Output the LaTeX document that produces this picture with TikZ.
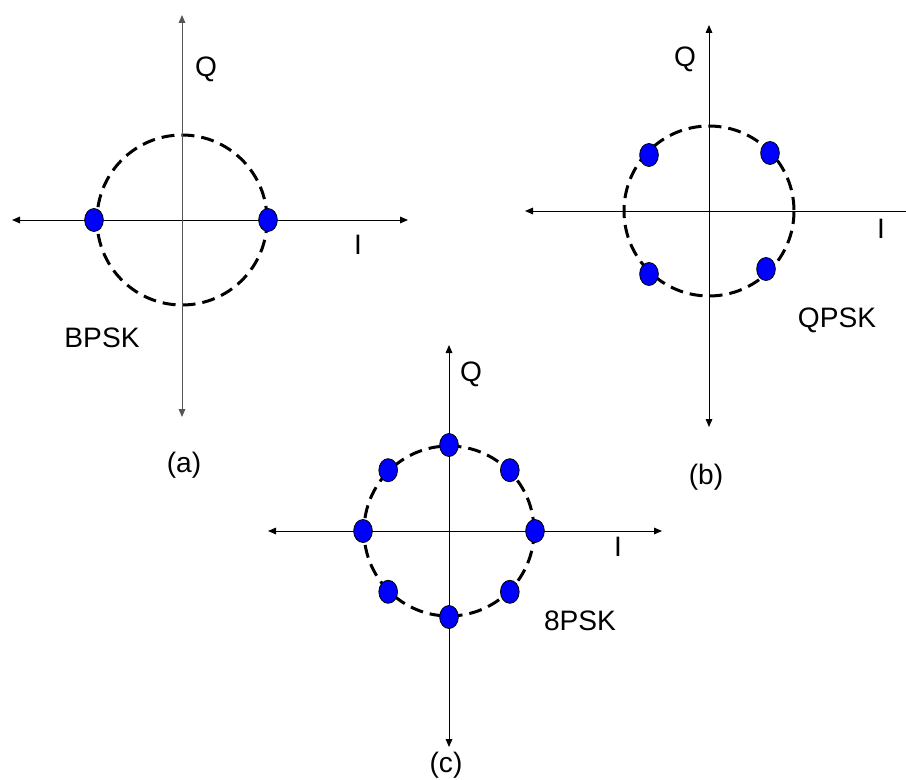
\documentclass[tikz,border=0pt]{standalone}
\usepackage{fontspec}
\setmainfont{Liberation Sans}
\usepackage{tikz}
\usetikzlibrary{arrows.meta,shapes.geometric,calc}
\definecolor{PskBlue}{HTML}{0000FF}
\definecolor{AxisGray}{HTML}{555555}
\tikzset{
  pskaxis/.style={
    {Triangle[length=2.4mm,width=2mm]}-{Triangle[length=2.4mm,width=2mm]},
    line width=0.3mm
  },
  pskring/.style={dashed, dash pattern=on 3.9mm off 2.1mm, line width=0.9mm},
  pskpoint/.style={
    ellipse,
    draw=black,
    fill=PskBlue,
    line width=0.25mm,
    minimum width=5.6mm,
    minimum height=6.9mm,
    inner sep=0pt
  },
  psklabel/.style={font=\fontsize{24}{26}\selectfont, inner sep=0pt}
}

\begin{document}
\begin{tikzpicture}[x=0.3mm, y=-0.3mm]
  \useasboundingbox (0,0) rectangle (906,780);

  % (a) BPSK
  \coordinate (aO) at (182,220);
  \coordinate (aL) at (12,220);
  \coordinate (aR) at (408,220);
  \coordinate (aT) at (182,15);
  \coordinate (aB) at (182,417);
  \draw[pskring] (aO) circle (85);
  \draw[pskaxis] (aL) -- (aR);
  \draw[pskaxis, draw=AxisGray] (aT) -- (aB);
  \node[pskpoint] (a1) at (94,220) {};
  \node[pskpoint] (a2) at (268,220) {};
  \node[psklabel] (aQ) at (206,69) {Q};
  \node[psklabel] (aI) at (358,245) {I};
  \node[psklabel] (aname) at (102,338) {BPSK};
  \node[psklabel] (acap) at (184,465) {(a)};

  % (b) QPSK
  \coordinate (bO) at (709,211);
  \coordinate (bL) at (525,211);
  \coordinate (bR) at (906,211);
  \coordinate (bT) at (709,25);
  \coordinate (bB) at (709,427);
  \draw[pskring] (bO) circle (85);
  \draw[{Triangle[length=2.4mm,width=2mm]}-, line width=0.3mm] (bL) -- (bR);
  \draw[pskaxis] (bT) -- (bB);
  \node[pskpoint] (b1) at (649,155) {};
  \node[pskpoint] (b2) at (770,153) {};
  \node[pskpoint] (b3) at (649,274) {};
  \node[pskpoint] (b4) at (766,269) {};
  \node[psklabel] (bQ) at (685,59) {Q};
  \node[psklabel] (bI) at (881,229) {I};
  \node[psklabel] (bname) at (837,320) {QPSK};
  \node[psklabel] (bcap) at (706,477) {(b)};

  % (c) 8PSK
  \coordinate (cO) at (449,531);
  \coordinate (cL) at (268,531);
  \coordinate (cR) at (662,531);
  \coordinate (cT) at (449,345);
  \coordinate (cB) at (449,747);
  \draw[pskring] (cO) circle (85);
  \draw[pskaxis] (cL) -- (cR);
  \draw[pskaxis] (cT) -- (cB);
  \foreach \ang [count=\k] in {0,45,...,315}
    \node[pskpoint] (c\k) at ($(cO)+(\ang:86)$) {};
  \node[psklabel] (cQ) at (471,374) {Q};
  \node[psklabel] (cI) at (618,547) {I};
  \node[psklabel] (cname) at (580,621) {8PSK};
  \node[psklabel] (ccap) at (446,765) {(c)};
\end{tikzpicture}
\end{document}
